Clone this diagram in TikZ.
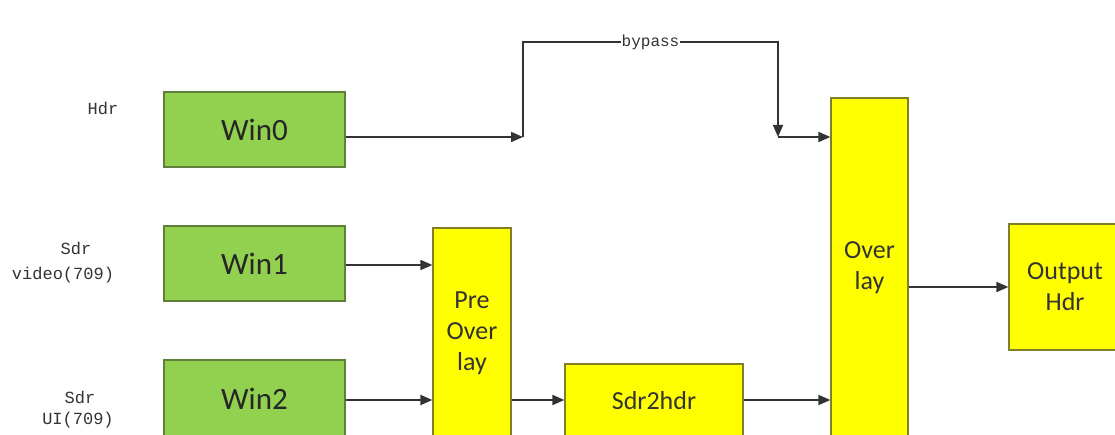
\documentclass[tikz,border=0pt]{standalone}
\usepackage{fontspec}
\setmainfont{Carlito}
\newfontfamily\labfont{Liberation Mono}
\usetikzlibrary{arrows.meta}
\definecolor{gfill}{HTML}{92D050}
\definecolor{gline}{HTML}{5F7F3A}
\definecolor{yfill}{HTML}{FFFF00}
\definecolor{yline}{HTML}{7F7F2A}
\definecolor{wire}{HTML}{333333}
\tikzset{
  greenbox/.style={draw=gline, line width=1.2pt, fill=gfill, inner sep=0pt,
    font=\fontsize{31}{34}\selectfont, text=black!85},
  yellowbox/.style={draw=yline, line width=1.2pt, fill=yfill, inner sep=0pt,
    align=center, font=\fontsize{26}{31}\selectfont, text=black!80},
  lab/.style={font=\labfont\fontsize{17}{20}\selectfont, text=black!80, inner sep=0pt},
  wireline/.style={draw=wire, line width=1.8pt},
  arr/.style={wireline, -{Triangle[length=12pt,width=10pt]}},
}
\begin{document}
\begin{tikzpicture}[x=1pt,y=-1pt]
\useasboundingbox (0,0) rectangle (1115,435);
\clip (0,0) rectangle (1115,435);
\fill[white] (0,0) rectangle (1115,435);
% input windows
\node[greenbox, minimum width=181pt, minimum height=75pt] (win0) at (254.5,129.5) {Win0};
\node[greenbox, minimum width=181pt, minimum height=75pt] (win1) at (254.5,263.5) {Win1};
\node[greenbox, minimum width=181pt, minimum height=78pt] (win2) at (254.5,399) {Win2};
% processing blocks
\node[yellowbox, minimum width=78pt, minimum height=210pt] (pre) at (472,333) {Pre\\Over\\lay};
\node[yellowbox, minimum width=178pt, minimum height=74pt] (s2h) at (654,401) {Sdr2hdr};
\node[yellowbox, minimum width=77pt, minimum height=340pt] (ovl) at (869.5,268) {Over\\lay};
\node[yellowbox, minimum width=112pt, minimum height=126pt] (out) at (1065,287) {Output\\Hdr};
% side labels
\node[lab] (lhdr) at (103,108) {Hdr};
\node[lab] (lsdr1) at (76,248) {Sdr};
\node[lab] (lvid) at (63,275) {video(709)};
\node[lab] (lsdr2) at (80,397) {Sdr};
\node[lab] (lui) at (78,420) {UI(709)};
% bypass route
\coordinate (j1) at (523,137);
\coordinate (t1) at (523,42);
\coordinate (t2) at (778,42);
\coordinate (j2) at (778,137);
\draw[arr] (win0.east |- j1) -- (j1);
\draw[arr] (j1) -- (t1) -- node[lab, font=\labfont\fontsize{16}{18}\selectfont, fill=white, inner xsep=1pt, inner ysep=2pt] (bp) {bypass} (t2) -- (j2);
\draw[arr] (j2) -- (ovl.west |- j2);
% main flow
\draw[arr] (win1.east |- 0,265) -- (pre.west |- 0,265);
\draw[arr] (win2.east |- 0,400) -- (pre.west |- 0,400);
\draw[arr] (pre.east |- 0,400) -- (s2h.west |- 0,400);
\draw[arr] (s2h.east |- 0,400) -- (ovl.west |- 0,400);
\draw[arr] (ovl.east |- 0,287) -- (out.west |- 0,287);
\end{tikzpicture}
\end{document}
